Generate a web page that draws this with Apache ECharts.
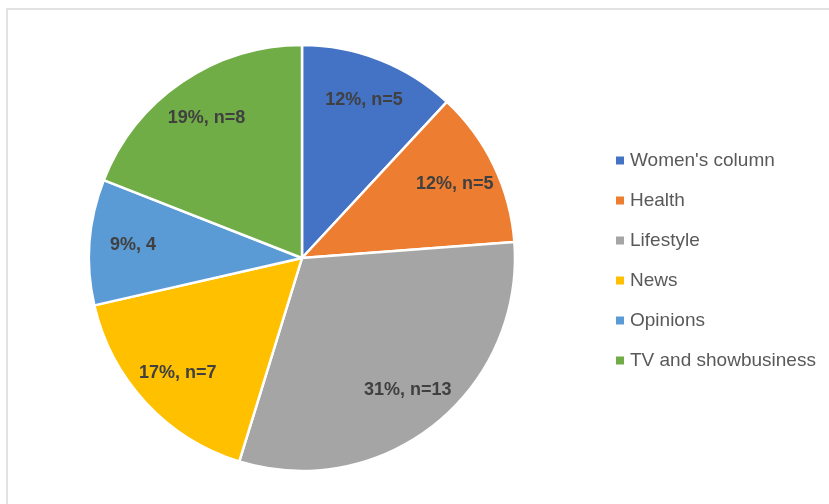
<!DOCTYPE html>
<html>
<head>
<meta charset="utf-8">
<script src="https://cdn.jsdelivr.net/npm/echarts@6/dist/echarts.min.js"></script>
<style>
  html, body { margin: 0; padding: 0; background: #fff; }
  #main { width: 829px; height: 504px; }
</style>
</head>
<body>
<div id="main"></div>
<script>
// sections of the paper, with counts and the percentages shown on the slices
const categories = ['Women\'s column', 'Health', 'Lifestyle', 'News', 'Opinions', 'TV and showbusiness']
const counts = [5, 5, 13, 7, 4, 8]
const percents = [12, 12, 31, 17, 9, 19]
const labelText = ['12%, n=5', '12%, n=5', '31%, n=13', '17%, n=7', '9%, 4', '19%, n=8']
const colors = ['#4472C4', '#ED7D31', '#A5A5A5', '#FFC000', '#5B9BD5', '#70AD47']

let chart = echarts.init(document.getElementById('main'))

let pieData = categories.map((name, i) => ({ name, value: counts[i] }))

let option = {
  color: colors,
  animation: false,
  graphic: [{
    type: 'rect',
    shape: { x: 7, y: 9, width: 840, height: 520 },
    style: { fill: 'none', stroke: '#d9d9d9', lineWidth: 1.5 },
    silent: true
  }],
  legend: {
    orient: 'vertical',
    left: 609,
    top: 146,
    padding: 5,
    itemWidth: 10,
    itemHeight: 10,
    itemGap: 21,
    icon: 'rect',
    data: categories,
    textStyle: {
      fontFamily: 'Liberation Sans',
      fontSize: 19,
      color: '#595959'
    }
  },
  series: [
    {
      // the visible pie
      type: 'pie',
      center: [302, 258],
      radius: [0, 213],
      startAngle: 90,
      clockwise: true,
      silent: true,
      label: { show: false },
      labelLine: { show: false },
      itemStyle: { borderColor: '#fff', borderWidth: 2.5 },
      data: pieData
    },
    {
      // transparent ring, only to carry the labels further out
      type: 'pie',
      center: [302, 258],
      radius: [120, 213],
      startAngle: 90,
      clockwise: true,
      silent: true,
      legendHoverLink: false,
      itemStyle: { color: 'rgba(0,0,0,0)', borderWidth: 0 },
      labelLine: { show: false },
      label: {
        show: true,
        position: 'inside',
        formatter: (p) => labelText[p.dataIndex],
        fontFamily: 'Liberation Sans',
        fontWeight: 'bold',
        fontSize: 18,
        color: '#404040'
      },
      data: pieData
    }
  ]
}

chart.setOption(option)
</script>
</body>
</html>
